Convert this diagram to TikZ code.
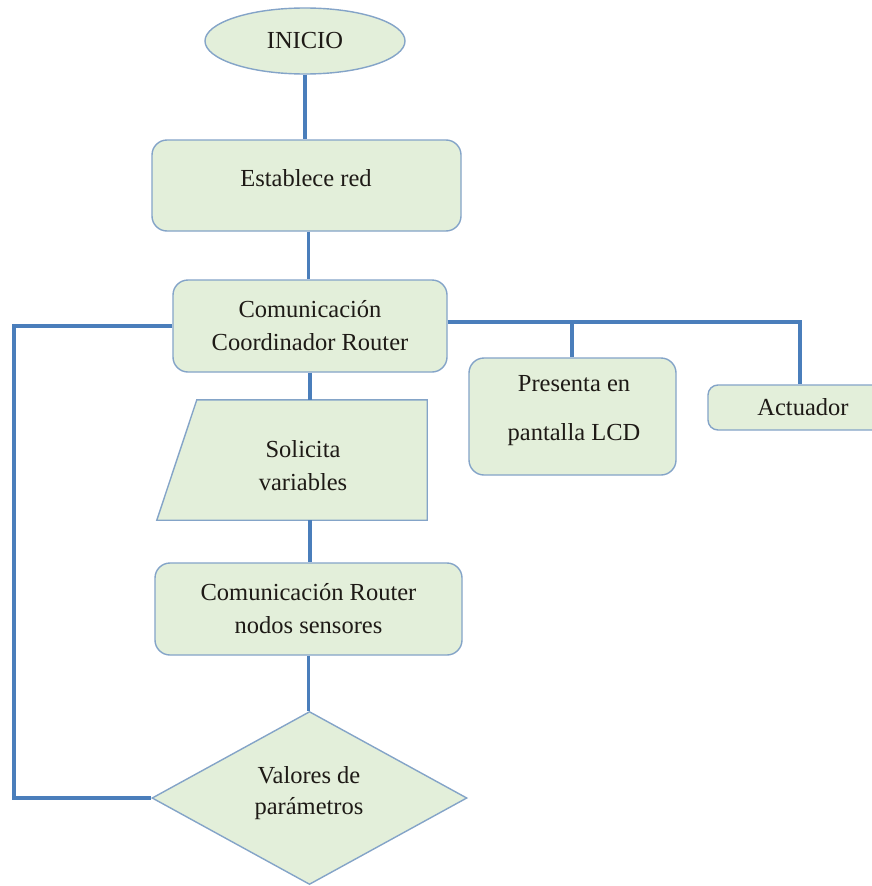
\documentclass[tikz,border=0pt]{standalone}
\usepackage{fontspec}
\setmainfont{Liberation Serif}
\usetikzlibrary{shapes.geometric}
\definecolor{boxfill}{RGB}{227,239,218}
\definecolor{boxedge}{RGB}{132,164,200}
\definecolor{flowline}{RGB}{74,126,187}
\definecolor{ink}{RGB}{30,26,22}
\tikzset{
  base/.style={draw=boxedge, line width=1.4pt, fill=boxfill, inner sep=0pt,
    align=center, text=ink, font=\fontsize{24.5}{33}\selectfont},
  roundbox/.style={base, rectangle, rounded corners=15pt},
  terminal/.style={base, ellipse},
  outline/.style={draw=boxedge, line width=1.4pt, fill=boxfill, line join=miter},
  decision/.style={base, diamond},
  txt/.style={align=center, text=ink, font=\fontsize{24.5}{33}\selectfont},
  link/.style={draw=flowline, line width=3.8pt, line join=miter}
}
\begin{document}
\begin{tikzpicture}[x=1pt,y=-1pt]
\useasboundingbox (0,0) rectangle (872,886);
\clip (0,0) rectangle (872,886);
\fill[white] (0,0) rectangle (872,886);

% free ends of the loop and the output bus
\coordinate (loopTop) at (14,326);
\coordinate (loopBot) at (14,798);
\coordinate (tapP) at (572,322);
\coordinate (busEnd) at (800,322);

% shapes
\node[terminal, minimum width=200pt, minimum height=66pt] (inicio) at (305,41) {INICIO};
\node[roundbox, minimum width=309pt, minimum height=91pt] (est) at (306.5,185.5) {};
\node[txt] (estT) at (306,178) {Establece red};
\node[roundbox, minimum width=274pt, minimum height=92pt] (com) at (310,326)
  {Comunicación\\Coordinador Router};
\node[roundbox, minimum width=207pt, minimum height=117pt] (pres) at (572.5,416.5) {};
\node[txt] (presT) at (574,411) {Presenta en\\[16pt]pantalla LCD};
\node[roundbox, minimum width=184pt, minimum height=45pt, rounded corners=10pt] (act) at (800,407.5) {};
\node[txt] (actT) at (803,407) {Actuador};
% input box: slanted left side, upright right side
\node[inner sep=0pt, minimum width=270pt, minimum height=120pt] (sol) at (292,460) {};
\path[outline] (sol.south west) -- (sol.south east) -- (sol.north east)
  -- ([xshift=40pt]sol.north west) -- cycle;
\node[txt] (solT) at (303,466) {Solicita\\variables};
\node[roundbox, minimum width=307pt, minimum height=92pt] (sens) at (308.5,609)
  {Comunicación Router\\nodos sensores};
\node[decision, minimum width=315pt, minimum height=173pt] (diam) at (309.5,798) {};
\node[txt, font=\fontsize{24.5}{31}\selectfont] (diamT) at (309,793) {Valores de\\parámetros};

% flow lines
\draw[link] (inicio.south) -- (inicio.south |- est.north);
\draw[link] ([xshift=2pt]est.south) -- ([xshift=2pt]est.south |- com.north);
\draw[link] (com.south) -- (com.south |- sol.north);
\draw[link] ([xshift=18pt]sol.south) -- ([xshift=18pt]sol.south |- sens.north);
\draw[link] (sens.south) -- (sens.south |- diam.north);
\draw[link] (com.west) -- (loopTop) -- (loopBot) -- (diam.west);
\draw[link] ([yshift=4pt]com.east) -- (busEnd) -- (busEnd |- act.north);
\draw[link] (tapP) -- (tapP |- pres.north);
\end{tikzpicture}
\end{document}
